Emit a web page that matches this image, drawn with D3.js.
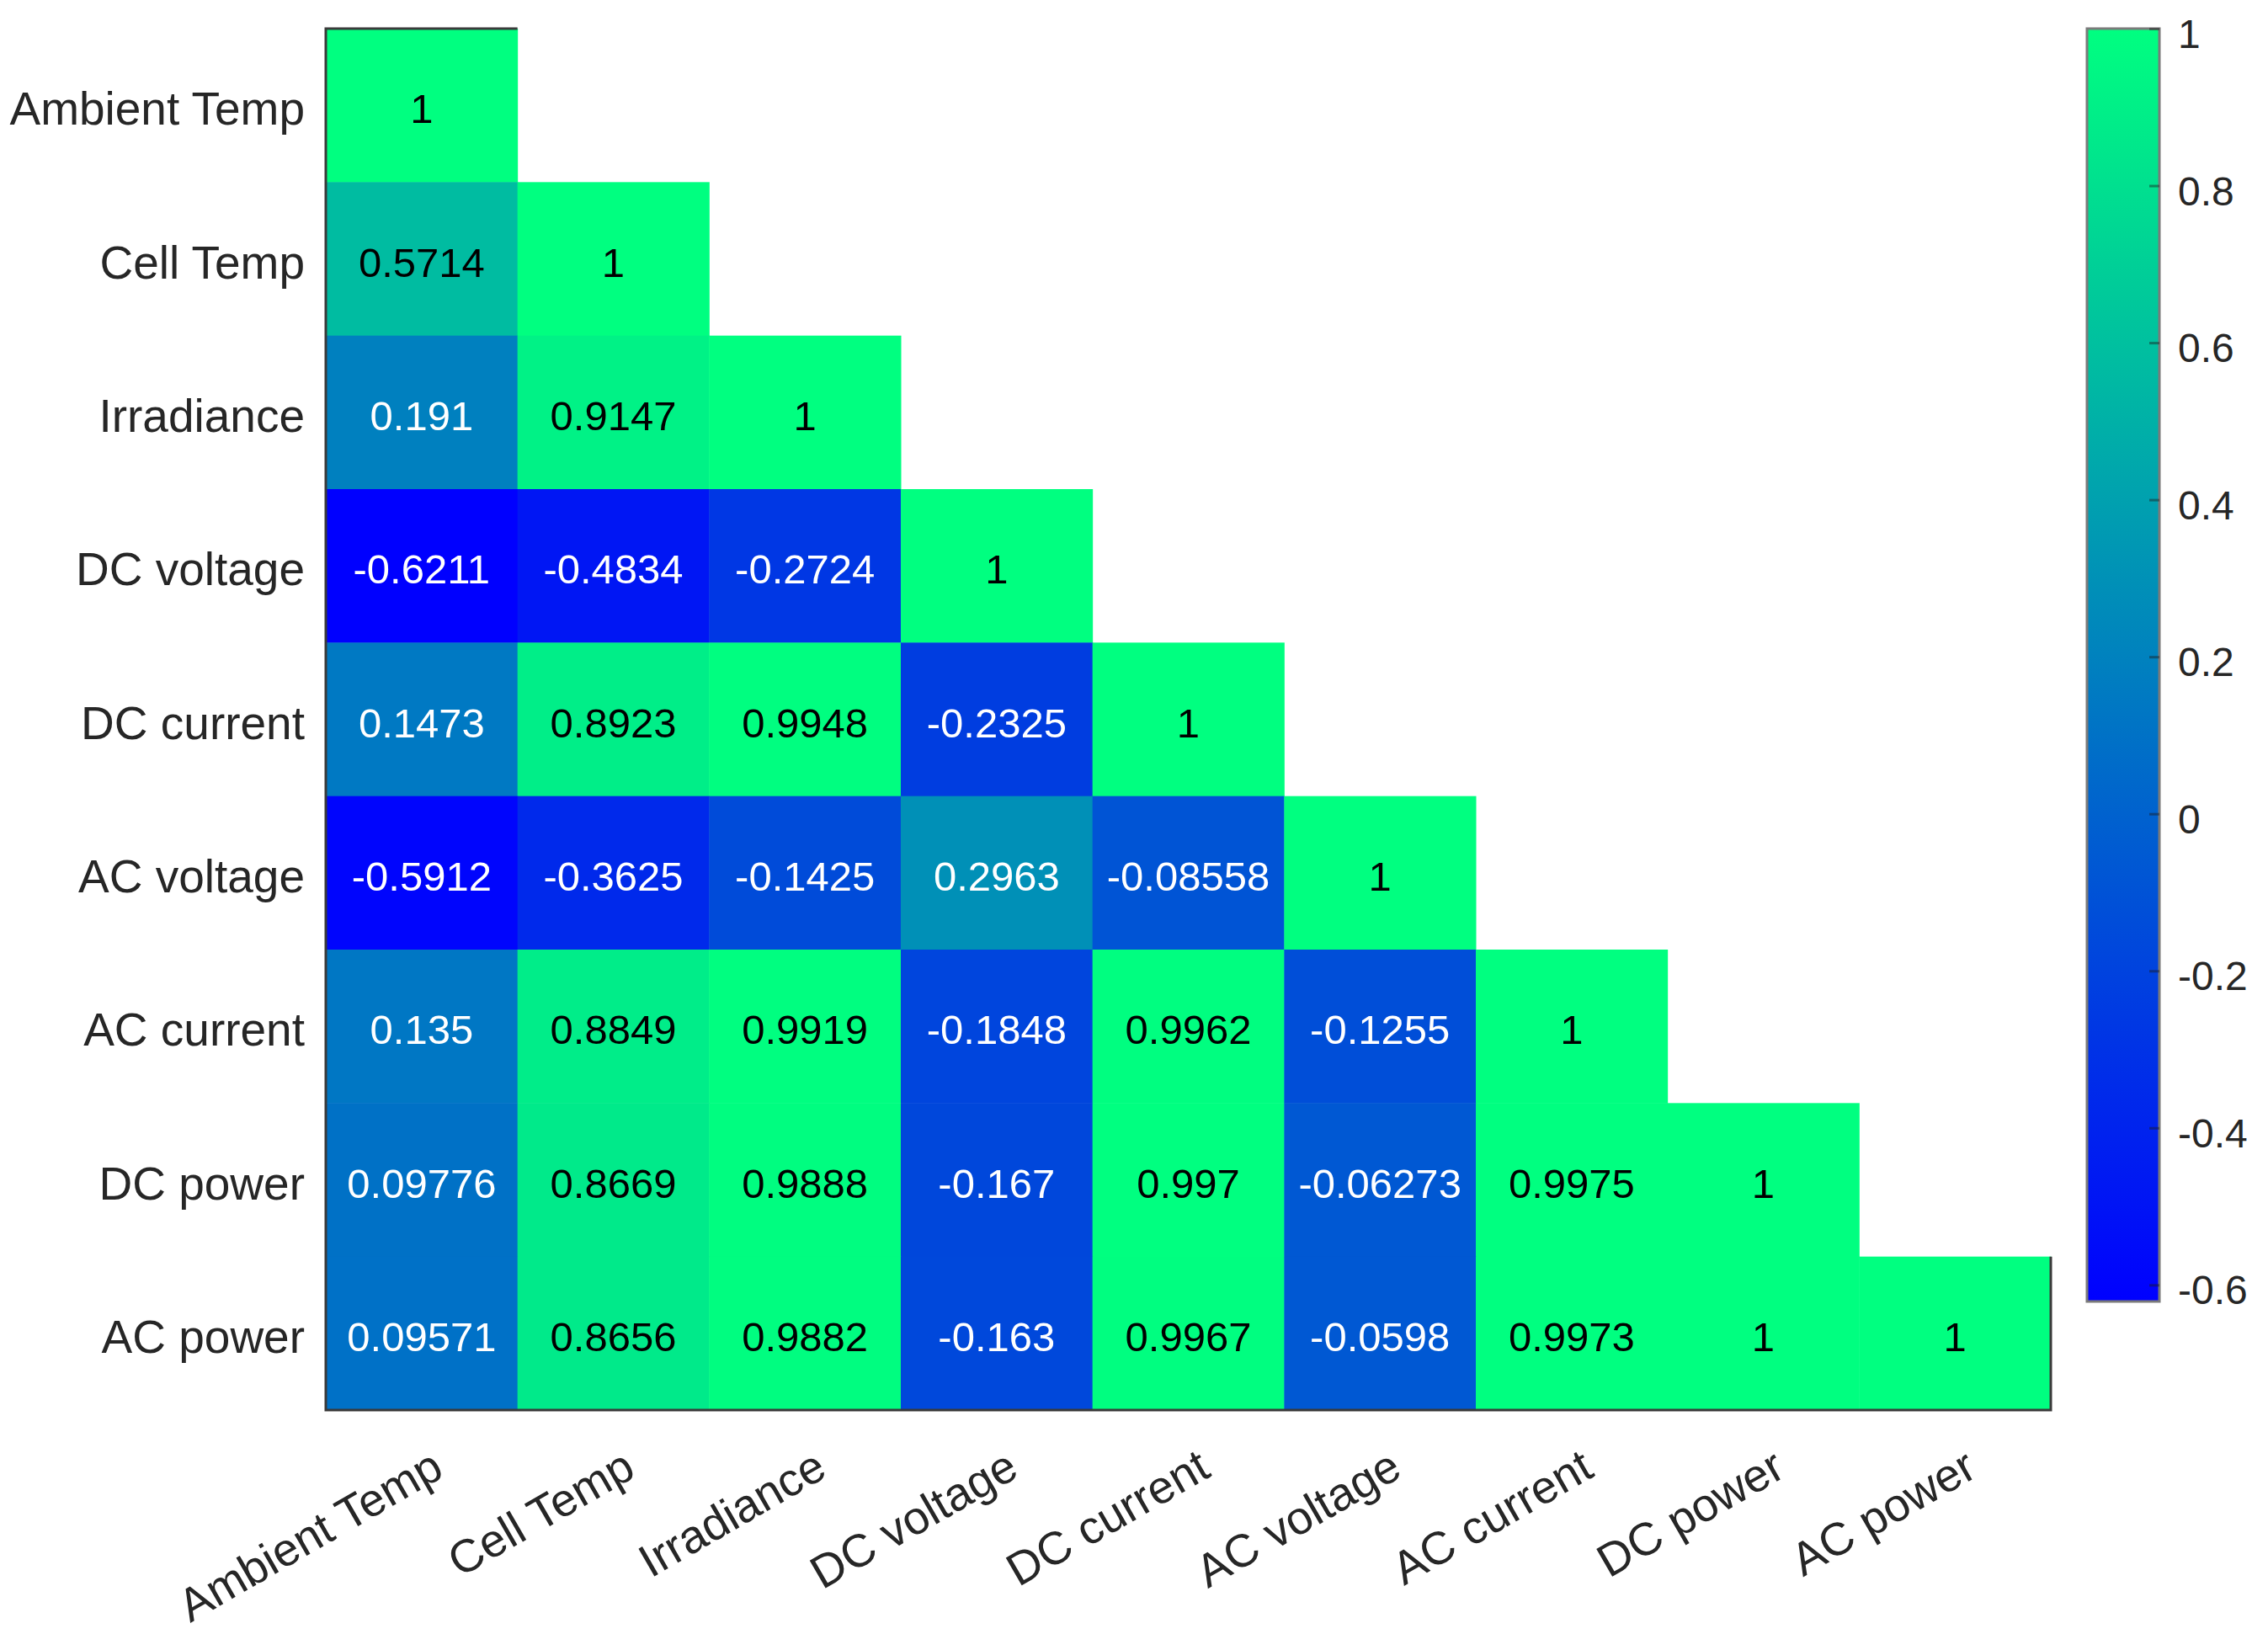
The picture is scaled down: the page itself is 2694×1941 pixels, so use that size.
<!DOCTYPE html>
<html>
<head>
<meta charset="utf-8">
<script src="https://cdn.jsdelivr.net/npm/d3@7"></script>
<style>
  body { margin: 0; background: #ffffff; }
  text { font-family: "Liberation Sans", Arial, sans-serif; }
</style>
</head>
<body>
<div id="heatmap"></div>
<script>
var variables = ["Ambient Temp", "Cell Temp", "Irradiance", "DC voltage", "DC current",
  "AC voltage", "AC current", "DC power", "AC power"];

// lower triangle, one row per variable
var rowAmbientTemp = [1];
var rowCellTemp = [0.5714, 1];
var rowIrradiance = [0.191, 0.9147, 1];
var rowDCVoltage = [-0.6211, -0.4834, -0.2724, 1];
var rowDCCurrent = [0.1473, 0.8923, 0.9948, -0.2325, 1];
var rowACVoltage = [-0.5912, -0.3625, -0.1425, 0.2963, -0.08558, 1];
var rowACCurrent = [0.135, 0.8849, 0.9919, -0.1848, 0.9962, -0.1255, 1];
var rowDCPower = [0.09776, 0.8669, 0.9888, -0.167, 0.997, -0.06273, 0.9975, 1];
var rowACPower = [0.09571, 0.8656, 0.9882, -0.163, 0.9967, -0.0598, 0.9973, 1, 1];

var colorTicks = [-0.6, -0.4, -0.2, 0, 0.2, 0.4, 0.6, 0.8, 1];

var svgWidth = 2694;
var svgHeight = 1941;

var margin = {
  top: 34,
  right: 258,
  bottom: 266,
  left: 387
};

var width = svgWidth - margin.left - margin.right;
var height = svgHeight - margin.top - margin.bottom;

var svg = d3.select("#heatmap")
  .append("svg")
  .attr("width", svgWidth)
  .attr("height", svgHeight);

var chart = svg.append("g")
  .attr("transform", `translate(${margin.left}, ${margin.top})`);

var rows = [rowAmbientTemp, rowCellTemp, rowIrradiance, rowDCVoltage, rowDCCurrent,
  rowACVoltage, rowACCurrent, rowDCPower, rowACPower];

var cells = [];
rows.forEach(function (row, i) {
  row.forEach(function (v, j) {
    cells.push({ row: variables[i], col: variables[j], value: v });
  });
});

var vMin = d3.min(cells, d => d.value);
var vMax = d3.max(cells, d => d.value);

// MATLAB "winter": blue -> spring green
function winter(t) {
  return d3.rgb(0, Math.round(255 * t), Math.round(255 * (1 - 0.5 * t))).formatHex();
}
var tScale = d3.scaleLinear().domain([vMin, vMax]).range([0, 1]).clamp(true);
var color = v => winter(tScale(v));

var xScale = d3.scaleBand()
  .domain(variables)
  .range([0, width]);

var yScale = d3.scaleBand()
  .domain(variables)
  .range([0, height]);

chart.selectAll("rect.cell")
  .data(cells)
  .enter()
  .append("rect")
  .attr("class", "cell")
  .attr("x", d => xScale(d.col))
  .attr("y", d => yScale(d.row))
  .attr("width", xScale.bandwidth() + 0.5)
  .attr("height", yScale.bandwidth() + 0.5)
  .attr("fill", d => color(d.value));

chart.selectAll("text.val")
  .data(cells)
  .enter()
  .append("text")
  .attr("class", "val")
  .attr("x", d => xScale(d.col) + xScale.bandwidth() / 2)
  .attr("y", d => yScale(d.row) + yScale.bandwidth() / 2)
  .attr("dy", "0.43em")
  .style("font-size", "49px")
  .style("text-anchor", "middle")
  .style("fill", d => d.value > 0.45 ? "#000000" : "#ffffff")
  .text(d => String(d.value));

// outline: left, bottom, top of first cell, right of last row
var cw = xScale.bandwidth(), rh = yScale.bandwidth();
chart.append("path")
  .attr("d", `M${cw},0 H0 V${height} H${width} V${height - rh}`)
  .attr("fill", "none")
  .attr("stroke", "#3a3a3a")
  .attr("stroke-width", 3);

// row labels
var leftAxis = d3.axisLeft(yScale).tickSize(0).tickPadding(25);
var gy = chart.append("g").call(leftAxis);
gy.select(".domain").remove();
gy.selectAll("text")
  .style("font-size", "55px")
  .style("font-family", "'Liberation Sans', Arial, sans-serif")
  .attr("fill", "#262626")
  .attr("dy", "0.42em");

// column labels, rotated
var bottomAxis = d3.axisBottom(xScale).tickSize(0).tickPadding(0);
var gx = chart.append("g")
  .attr("transform", `translate(0, ${height})`)
  .call(bottomAxis);
gx.select(".domain").remove();
gx.selectAll("text")
  .style("font-size", "55px")
  .style("font-family", "'Liberation Sans', Arial, sans-serif")
  .attr("fill", "#262626")
  .attr("y", 0)
  .attr("dy", "0.35em")
  .style("text-anchor", "end")
  .attr("transform", "translate(19, 61) rotate(-30)");

// colorbar
var cbX = 2479, cbW = 86;
var cbScale = d3.scaleLinear()
  .domain([vMin, vMax])
  .range([svgHeight - 395, 34]);

var grad = svg.append("defs").append("linearGradient")
  .attr("id", "cbgrad")
  .attr("x1", 0).attr("y1", 1).attr("x2", 0).attr("y2", 0);
d3.range(0, 1.0001, 0.1).forEach(function (t) {
  grad.append("stop")
    .attr("offset", t)
    .attr("stop-color", winter(t));
});

svg.append("rect")
  .attr("x", cbX)
  .attr("y", cbScale(vMax))
  .attr("width", cbW)
  .attr("height", cbScale(vMin) - cbScale(vMax))
  .attr("fill", "url(#cbgrad)")
  .attr("stroke", "#7a7a7a")
  .attr("stroke-width", 3);

var cbAxis = d3.axisRight(cbScale)
  .tickValues(colorTicks)
  .tickFormat(d => String(d))
  .tickSizeInner(-12)
  .tickSizeOuter(0)
  .tickPadding(22);

var gc = svg.append("g")
  .attr("transform", `translate(${cbX + cbW}, 0)`)
  .call(cbAxis);
gc.select(".domain").remove();
gc.selectAll("line")
  .attr("stroke", "#1a1a1a")
  .attr("stroke-opacity", 0.45)
  .attr("stroke-width", 3);
gc.selectAll("text")
  .style("font-size", "48px")
  .style("font-family", "'Liberation Sans', Arial, sans-serif")
  .attr("fill", "#262626")
  .attr("dy", "0.47em");
</script>
</body>
</html>
